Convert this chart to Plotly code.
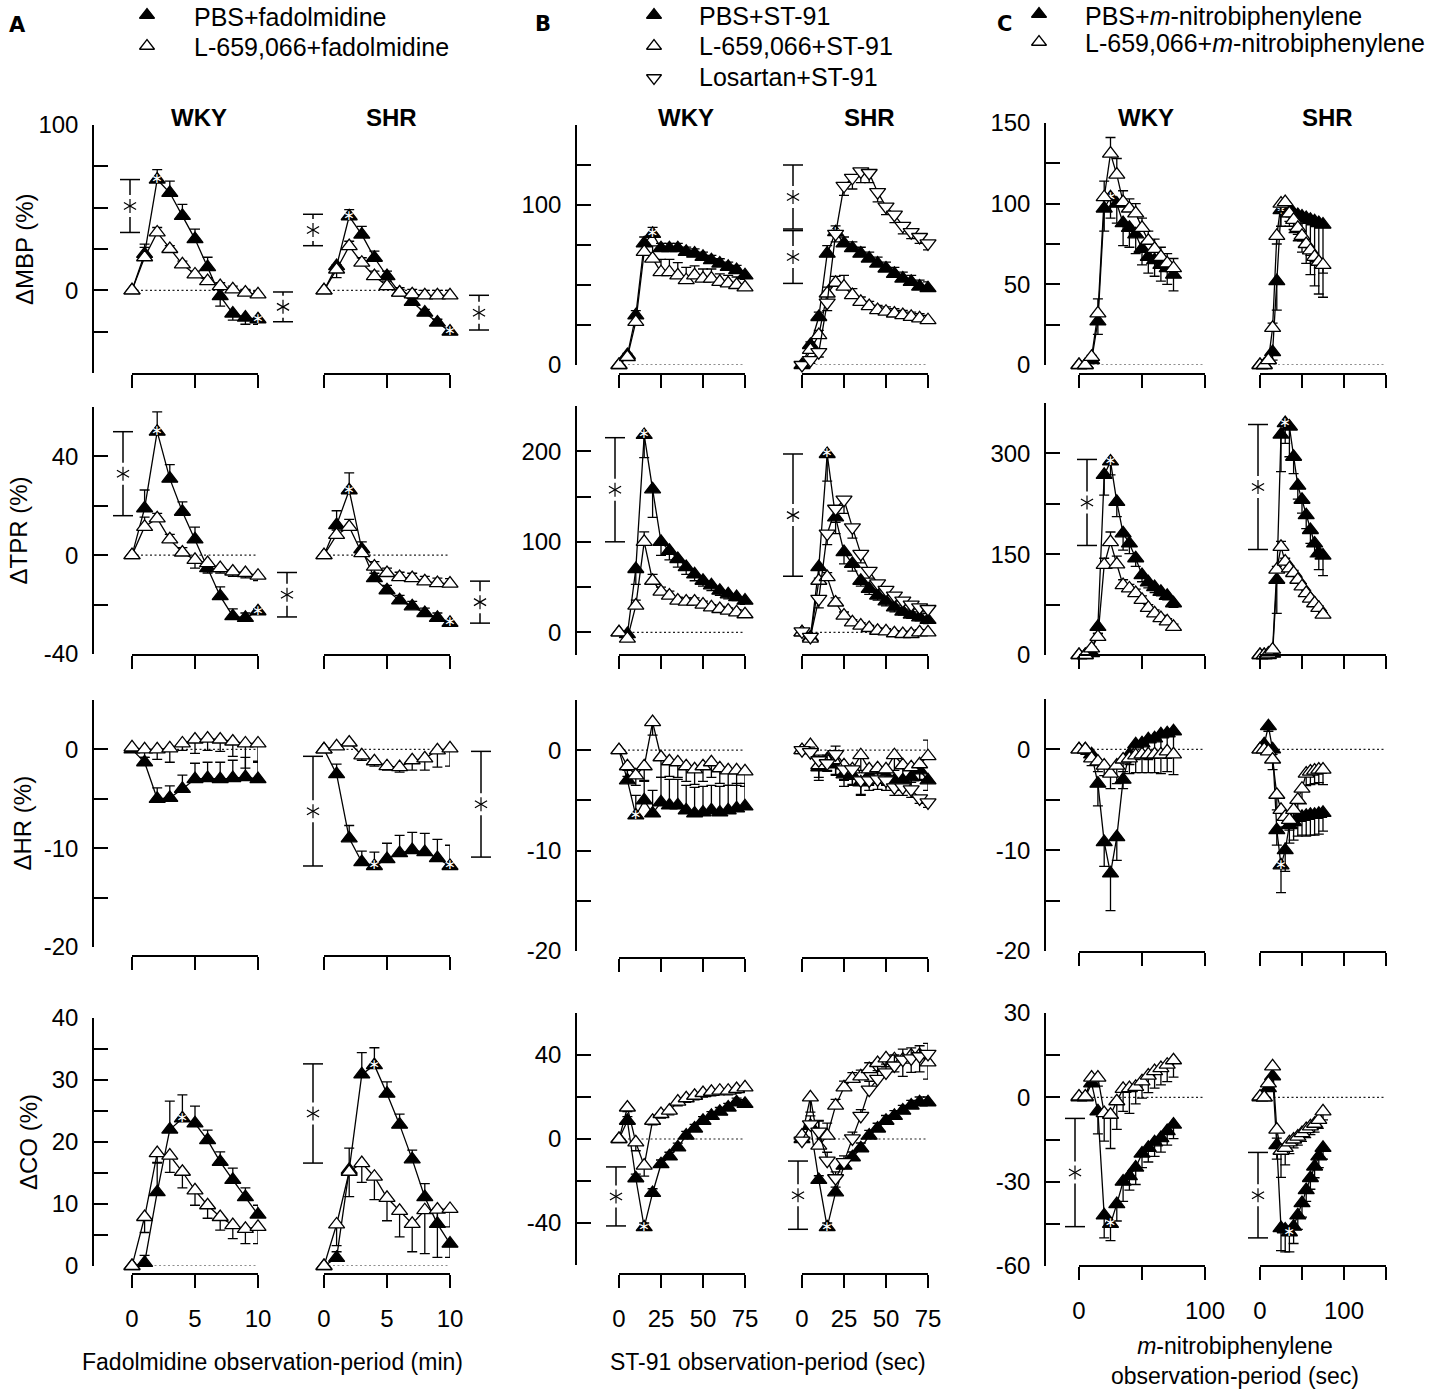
import math
import plotly.graph_objects as go

W, H = 1439, 1396
FONT = "Liberation Sans, Arial, Helvetica, sans-serif"

# observation times
TIME_A = list(range(0, 11))        # min
TIME_B = list(range(0, 80, 5))     # sec
TIME_C = list(range(0, 80, 5))     # sec

# ---- mean % change and SE (SE > 0: bar drawn up, SE < 0: bar drawn down) ----
# A: fadolmidine
A_MBP_WKY_PBS = [0, 22, 67, 59, 45, 31, 14, -3.5, -14, -16.5, -17.5]
A_MBP_WKY_PBS_SE = [0, 4, 6, 7, 7, 6, 6, -6, -4, -4, -3]
A_MBP_WKY_L659 = [0, 20, 35, 25, 15.7, 9.6, 5.6, 2.6, 0.6, -1.4, -2.4]
A_MBP_WKY_L659_SE = [0, 8, 3, 2, 2, 2, 2, 2, 2, 2, 2]
A_MBP_SHR_PBS = [0, 14.7, 44.8, 33.7, 19.7, 8.6, -1.4, -7, -13.5, -19.5, -25]
A_MBP_SHR_PBS_SE = [0, -7, 4, 5, 4, 3, 2, 2, 2, 2, 2]
A_MBP_SHR_L659 = [0, 12.6, 26.7, 16.7, 8.6, 2.6, -1.4, -2.4, -3, -3, -3]
A_MBP_SHR_L659_SE = [0, 3, 3, 3, 3, 3, 3, 3, 3, 3, 3]

A_TPR_WKY_PBS = [0, 19, 50, 31, 17.6, 6.4, -5.2, -16.6, -24.7, -25.4, -22.7]
A_TPR_WKY_PBS_SE = [0, 7.4, 8, 5.7, 4, 5, -2, 3.8, 3, 2, 1]
A_TPR_WKY_L659 = [0, 11.5, 14.9, 6.4, 1.1, -1.9, -3.2, -5.2, -6.6, -7.2, -8.3]
A_TPR_WKY_L659_SE = [0, 3.9, 2, 2, 2, -3.3, -2, -2, -2, -2, -2]
A_TPR_SHR_PBS = [0, 12.2, 26.3, 2.4, -9.3, -14.2, -18.3, -20.7, -23.4, -25.4, -27.4]
A_TPR_SHR_PBS_SE = [0, 5.8, 7, 3, 2, 2, 2, 2, 2, 2, 1]
A_TPR_SHR_L659 = [0, 8.2, 11.5, 0.8, -4.6, -7.2, -8.9, -9.3, -10.6, -11.3, -11.5]
A_TPR_SHR_L659_SE = [0, 2, 3, 2, 2, 2, 2, 2, 2, 2, 2]

A_HR_WKY_PBS = [0, -1.3, -5, -4.9, -4, -3, -2.9, -3, -2.9, -2.8, -3]
A_HR_WKY_PBS_SE = [0, 0.5, 1.1, 1.2, 1.4, 1.6, 1.6, 1.7, 1.8, 2, 1.7]
A_HR_WKY_L659 = [0.2, 0, 0, 0.1, 0.6, 1, 1.1, 1, 0.8, 0.6, 0.6]
A_HR_WKY_L659_SE = [0, -0.8, -1, -1.4, -0.7, -1.4, -1.2, -1.2, -1.5, -2.5, -1.8]
A_HR_SHR_PBS = [0, -2.5, -9, -11.4, -11.8, -11.1, -10.5, -10.2, -10.4, -11, -11.8]
A_HR_SHR_PBS_SE = [0, 1, 1.3, 1.1, 1.4, 1.6, 1.8, 1.8, 1.9, 1.9, 2.1]
A_HR_SHR_L659 = [0, 0.3, 0.7, -0.6, -1.2, -1.7, -1.8, -1.1, -0.9, -0.1, 0.1]
A_HR_SHR_L659_SE = [0, -0.3, -0.3, -0.5, -0.5, -0.4, -0.5, -1.0, -1.2, -1.7, -1.8]

A_CO_WKY_PBS = [0, 0.5, 11.9, 22, 23.8, 23, 20.3, 16.8, 13.9, 11.1, 8.3]
A_CO_WKY_PBS_SE = [0, 1.2, 4.7, 4.6, 3.8, 2.8, 1.6, 1.6, 1.9, 1.5, 1.5]
A_CO_WKY_L659 = [0, 7.9, 18.2, 17.8, 15.2, 12.2, 9.8, 7.9, 6.6, 6, 6.3]
A_CO_WKY_L659_SE = [0, -2.5, -1.5, -2.7, -2.6, -2.4, -2.1, -2.1, -2.2, -2.4, -2.7]
A_CO_SHR_PBS = [0, 1.3, 15.5, 30.9, 32.4, 27.8, 22.8, 17.2, 11.1, 6.8, 3.6]
A_CO_SHR_PBS_SE = [0, 1, 3.5, 3.5, 2.8, 1.9, 1.7, 1.5, 2.2, 2.5, -2.2]
A_CO_SHR_L659 = [0, 6.7, 15.2, 16.6, 14.4, 11, 8.9, 6.8, 9, 9.1, 9.2]
A_CO_SHR_L659_SE = [0, -3.4, -4, -3.1, -3.7, -3.7, -4.2, -4.5, -7, -7.7, -2.9]

# B: ST-91
B_MBP_WKY_PBS = [0, 6.2, 31, 76, 82, 73, 73, 73, 70.7, 69.6, 67.6, 65.5, 63.4, 61.3, 59.3, 56]
B_MBP_WKY_PBS_SE = [0, 1, 3, 4, 4, 3, 3, 3, 3, 3, 3, 3, 3, 3, 3, 3]
B_MBP_WKY_L659 = [0, 5, 27, 70.7, 66.5, 58, 58, 56, 53, 56, 54, 54, 52, 51, 50, 48.5]
B_MBP_WKY_L659_SE = [0, 1, 3, 5, 8, 8, 8, 8, 8, 6, 6, 6, 5, 5, 5, 5]
B_MBP_SHR_PBS = [0, 12.5, 30, 69.6, 83, 76, 73, 69.6, 66.5, 63.4, 60.3, 57, 54, 52, 49, 48]
B_MBP_SHR_PBS_SE = [0, 2, 3, 5, 4, 4, 4, 4, 4, 4, 4, 4, 4, 4, 4, 4]
B_MBP_SHR_L659 = [-1, 9.4, 18.7, 44.7, 51.4, 49, 43.7, 39.5, 36.8, 34.3, 33.3, 32.2, 31.2, 30.1, 29.1, 28]
B_MBP_SHR_L659_SE = [0, 2, 3, 4, 4, 7, 4, 3, 3, 3, 3, 3, 3, 3, 3, 3]
B_MBP_SHR_LOS = [0, 3, 8, 39, 82, 112, 117, 121, 120, 108, 99, 94, 87, 83, 80, 76]
B_MBP_SHR_LOS_SE = [0, -2, -3, -5, -5, -6, -7, -7, -6, -6, -5, -5, -5, -4, -4, -4]

B_TPR_WKY_PBS = [0, -2, 70, 218, 158, 100, 90, 81, 72, 64, 57, 52, 46, 42, 39, 35]
B_TPR_WKY_PBS_SE = [0, -2, -17, -25, -31, -15, -10, -9, -8, -7, -6, -6, -5, -5, -4, -4]
B_TPR_WKY_L659 = [0, -7, 29.5, 100, 57, 45, 40.6, 35, 34, 34, 30.6, 27.7, 25.8, 24, 22, 20]
B_TPR_WKY_L659_SE = [0, 2, 6, 11, 7, 5, 5, 4, 4, 4, 4, 3, 3, 3, 3, 3]
B_TPR_SHR_PBS = [0, -5.5, 72, 197, 127, 88.6, 75.6, 57, 48, 40.6, 34.3, 27.7, 23, 19.6, 16.6, 13.7]
B_TPR_SHR_PBS_SE = [0, -3, -12, -30, -18, -13, -8, -6, -6, -5, -5, -5, -4, -4, -4, -4]
B_TPR_SHR_L659 = [0, -7, 57, 61, 33, 18.5, 11, 7.4, 4.8, 1.8, 1.1, -1, -1.8, -1.8, 0, 0]
B_TPR_SHR_L659_SE = [0, 2, 13, 5, 5, 4, 3, 3, 3, 3, 3, 3, 3, 3, 3, 3]
B_TPR_SHR_LOS = [1, -5, 37, 109, 136.5, 146.5, 116, 86.7, 68, 54, 47, 40.6, 35, 30.6, 27.7, 25.8]
B_TPR_SHR_LOS_SE = [0, -2, -10, -12, -15, -15, -12, -10, -8, -7, -6, -6, -5, -5, -5, -5]

B_HR_WKY_PBS = [0, -3, -6.5, -5, -6.3, -5.2, -5.5, -5.5, -6, -6.3, -6.2, -6, -6.2, -6, -5.8, -5.6]
B_HR_WKY_PBS_SE = [0, 1, 2, 2, 2.3, 2.5, 2.6, 2.6, 2.5, 2.6, 2.6, 2.5, 2.6, 2.5, 2.5, 2.3]
B_HR_WKY_L659 = [0, -1.6, -2.5, -1.6, 2.8, -0.7, -1.1, -1.2, -1.6, -1.9, -1.6, -1.2, -1.8, -2, -2, -2.1]
B_HR_WKY_L659_SE = [0, -1, -1, -1.5, -1.3, -2, -1.5, -1.5, -1.5, -1.5, -1.5, -1.5, -1.5, -1.5, -1.5, -1.5]
B_HR_SHR_PBS = [0, 0.3, -1.7, -0.9, -1.4, -2.4, -2.5, -3.2, -2.5, -2, -2.5, -3, -3, -2.7, -2, -3]
B_HR_SHR_PBS_SE = [0, -0.5, -1, -1.2, -1, -1.2, -1, -1.2, -1, -1, -1, -1, -1, -1, -1, -1]
B_HR_SHR_L659 = [0, 0.5, -1.5, -1, -1, -1.5, -1.9, -0.5, -1.9, -1.8, -1.9, -0.5, -1.5, -1.7, -1.4, -0.6]
B_HR_SHR_L659_SE = [0, -0.5, -1.5, -1, -1.5, -1.5, -1.5, -1.5, -1.5, -1.5, -1.5, -1.5, -1.5, -1.5, -1.5, 1.6]
B_HR_SHR_LOS = [0, -0.2, -1, -1.3, -0.4, -1.9, -1.9, -3, -3, -2.9, -3, -3.7, -3.7, -3.9, -4.8, -5.2]
B_HR_SHR_LOS_SE = [0, 0.5, 0.5, 0.8, 0.8, -1, -1, -1.5, -1, -1, -1, -0.8, -0.8, -0.8, -0.5, -0.5]

B_CO_WKY_PBS = [0, 8.7, -18.7, -42, -25.7, -12, -8.3, -4, 1.6, 5, 8.7, 11, 13, 15, 17.5, 16.7]
B_CO_WKY_PBS_SE = [0, 2, 2, 2, 2, 2, 2, 2, 2, 2, 2, 2, 2, 2, 2, 2]
B_CO_WKY_L659 = [0, 15, -1.6, -12.7, 8.7, 11.9, 13.5, 17.8, 19.4, 20.6, 21.9, 22.5, 23, 23, 23.8, 24.6]
B_CO_WKY_L659_SE = [0, -2, -4, -5, -2, -2, -2, -2, -2, -2, -2, -2, -2, -2, -2, -2]
B_CO_SHR_PBS = [0, 6.3, -19.5, -42, -25.4, -12.7, -8.7, -4.4, 1.6, 5, 8.7, 11, 13.5, 15.9, 17.5, 17.5]
B_CO_SHR_PBS_SE = [0, 2, 2, 2, 2.5, 2.5, 2.5, 2.5, 2.5, 2.5, 2.5, 2.5, 2.5, 2.5, 2.5, 2.5]
B_CO_SHR_L659 = [1.6, 19.8, -3.2, 1.6, 15.9, 24.6, 28.6, 29.8, 33.3, 36.2, 38.4, 38, 37.8, 39.7, 40, 36.5]
B_CO_SHR_L659_SE = [0, -7, 12, 6, 3, 3, 3, 3, 3, -4, -4, -6, -8, -8, -8, -8]
B_CO_SHR_LOS = [-0.8, 7, 3.5, -10.3, -18.7, -11, 0.3, 11, 23.5, 28.6, 31.7, 35, 37.8, 38.4, 39.4, 40.5]
B_CO_SHR_LOS_SE = [0, 4, 5, 4, 3, 3, 3, 3, 4, 4, 4, 5, 5, 5, 5, 5]

# C: m-nitrobiphenylene
C_MBP_WKY_PBS = [0, 0, 3, 27, 97, 104, 100, 88, 85, 81, 72, 67, 65, 62, 60, 56]
C_MBP_WKY_PBS_SE = [0, 0, -1, -8, -14, -13, -12, -14, -12, -12, -10, -10, -10, -10, -10, -10]
C_MBP_WKY_L659 = [0, 0, 5, 32, 104, 131, 118, 101, 97, 94, 85, 77, 72, 67, 63, 60]
C_MBP_WKY_L659_SE = [0, 0, 1, 9, 10, 10, 10, 7, 6, 6, 6, 6, 6, 6, 6, 6]
C_MBP_SHR_PBS = [0, 0, 3, 8, 52, 96, 100, 97, 94, 93, 92, 91, 90, 89, 88, 87]
C_MBP_SHR_PBS_SE = [0, 0, -2, -5, -18, -10, -8, -8, -10, -12, -15, -18, -22, -25, -28, -30]
C_MBP_SHR_L659 = [0, 0, 3, 23, 80, 100, 101, 94, 90, 85, 80, 75, 71, 67, 64, 62]
C_MBP_SHR_L659_SE = [0, 0, 1, 3, -5, -5, -8, -8, -8, -8, -10, -12, -15, -18, -20, -20]

C_TPR_WKY_PBS = [0, 0, 3, 42, 268, 288, 228, 181, 166, 144, 119, 108, 101, 94, 88, 77]
C_TPR_WKY_PBS_SE = [0, 0, -3, -10, -30, -20, -22, -25, -15, -12, -10, -8, -8, -6, -6, -6]
C_TPR_WKY_L659 = [0, 0, 10, 27, 134, 168, 135, 104, 99, 92, 82, 70, 62, 55, 50, 42]
C_TPR_WKY_L659_SE = [0, 0, 2, 5, 10, 15, 12, 8, 6, 6, 6, 5, 5, 4, 4, 4]
C_TPR_SHR_PBS = [0, 0, 0, 2, 112, 328, 345, 340, 295, 252, 231, 208, 186, 166, 152, 148]
C_TPR_SHR_PBS_SE = [0, 0, 0, -2, -50, -55, -30, -45, -25, -20, -20, -20, -20, -20, -25, -30]
C_TPR_SHR_L659 = [0, 0, 2, 8, 127, 161, 139, 129, 122, 112, 102, 92, 84, 77, 70, 60]
C_TPR_SHR_L659_SE = [0, 0, 1, 2, 5, 8, 5, 4, 4, 4, 4, 4, 3, 3, 3, 3]

C_HR_WKY_PBS = [0, 0, -0.5, -3.4, -9.2, -12.3, -8.7, -3, -0.5, 0.5, 0.6, 1, 1.1, 1.5, 1.6, 1.8]
C_HR_WKY_PBS_SE = [0, 0, -0.5, -2.2, -2.4, -3.7, -2.3, -0.9, -1, -1.5, -1.5, -2, -2, -2, -2.5, -2.5]
C_HR_WKY_L659 = [0, 0, -0.9, -1.2, -1.6, -2.4, -1.6, -1, -0.9, -0.6, -0.5, -0.5, -0.5, -0.5, -0.2, -0.5]
C_HR_WKY_L659_SE = [0, -0.5, -0.7, -1, -1, -1.5, -1.8, -1.2, -1.5, -1.7, -1.8, -1.8, -1.8, -1.9, -2, -2]
C_HR_SHR_PBS = [0, 0.5, 2.3, 0, -8, -11.5, -10, -7.5, -7.2, -6.8, -6.7, -6.6, -6.5, -6.5, -6.4, -6.3]
C_HR_SHR_PBS_SE = [0, 0, -0.5, -0.5, -1.5, -2.7, -2.1, -1.8, -1.8, -1.8, -1.8, -2, -2, -2, -2, -1.8]
C_HR_SHR_L659 = [0, 0, -0.2, -1, -4.5, -6, -6.7, -7, -6, -5, -3.9, -2.4, -2.2, -2.1, -2, -2]
C_HR_SHR_L659_SE = [0, 0, 0, -1, -1.5, -1, -1, -1, -1.5, -1.8, -1.5, -1.2, -1.3, -1.3, -1.3, -1.5]

C_CO_WKY_PBS = [0, 0, 5, -5, -42, -45, -38, -30, -28, -25, -20, -18, -16, -14.5, -12, -9.7]
C_CO_WKY_PBS_SE = [0, 0, -1, -8, -8, -6, -6, -7, -5, -6, -5, -5, -5, -5, -5, -5]
C_CO_WKY_L659 = [0.3, 0.3, 7, 7, -5.6, -6.2, -1.4, 3, 3.3, 3.7, 5.7, 7.7, 9.3, 10.4, 11.6, 13.2]
C_CO_WKY_L659_SE = [0, 0, -1, -3, -10, -12, -10, -8, -9, -6, -6, -6, -6, -6, -6, -6]
C_CO_SHR_PBS = [0, 0, 3.3, 7.5, -17, -46.5, -47, -48, -46, -42, -37.6, -33, -28.7, -24.6, -21, -18]
C_CO_SHR_PBS_SE = [0, 0, -1, -1, -5, -8, -8, -7, -6, -5, -5, -4, -4, -4, -4, -4]
C_CO_SHR_L659 = [0.3, 0, 5, 11, -11.5, -19, -18, -16, -15, -14, -12.7, -11.3, -10.3, -9.4, -8, -5]
C_CO_SHR_L659_SE = [0, 0, -1, -1, -3, -9.5, -6, -4, -3, -3, -3, -3, -3, -3, -3, -3]

# points flagged with a white asterisk (index into the series)
STARS = {
    ("A", "MBP", "WKY", "PBS"): [2, 10], ("A", "MBP", "SHR", "PBS"): [2, 10],
    ("A", "TPR", "WKY", "PBS"): [2, 10], ("A", "TPR", "SHR", "PBS"): [2, 10],
    ("A", "HR", "SHR", "PBS"): [4, 10],
    ("A", "CO", "WKY", "PBS"): [4], ("A", "CO", "SHR", "PBS"): [4],
    ("B", "MBP", "WKY", "PBS"): [4], ("B", "MBP", "SHR", "PBS"): [4],
    ("B", "TPR", "WKY", "PBS"): [3], ("B", "TPR", "SHR", "PBS"): [3],
    ("B", "HR", "WKY", "PBS"): [2],
    ("B", "CO", "WKY", "PBS"): [3], ("B", "CO", "SHR", "PBS"): [3],
    ("C", "MBP", "WKY", "PBS"): [5], ("C", "MBP", "SHR", "PBS"): [5],
    ("C", "TPR", "WKY", "PBS"): [5], ("C", "TPR", "SHR", "PBS"): [6],
    ("C", "HR", "SHR", "PBS"): [5],
    ("C", "CO", "WKY", "PBS"): [5], ("C", "CO", "SHR", "PBS"): [7],
}

# significance brackets: panel, row, x position (px), low, high
BRACKETS = [
    ("A", "MBP", 130, 35, 67), ("A", "MBP", 283, -19, -1),
    ("A", "MBP", 313, 27, 46), ("A", "MBP", 479, -24, -3),
    ("A", "TPR", 123, 16, 50), ("A", "TPR", 287, -25, -7),
    ("A", "TPR", 480, -27.5, -10.5),
    ("A", "HR", 313, -11.8, -0.7), ("A", "HR", 481, -10.9, -0.2),
    ("A", "CO", 313, 16.6, 32.6),
    ("B", "MBP", 793, 85, 125), ("B", "MBP", 793, 51, 84),
    ("B", "TPR", 615, 100, 215), ("B", "TPR", 793, 62, 197),
    ("B", "CO", 616, -41.4, -13.3), ("B", "CO", 798, -43, -10.5),
    ("C", "TPR", 1087, 163, 291), ("C", "TPR", 1258, 157, 343),
    ("C", "CO", 1075, -46, -7.5), ("C", "CO", 1258, -50, -19.6),
]

ROWS = ["MBP", "TPR", "HR", "CO"]
ROW_TITLES = {"MBP": ("ΔMBP (%)", 24), "TPR": ("ΔTPR (%)", 18),
              "HR": ("ΔHR (%)", 22), "CO": ("ΔCO (%)", 28)}

STYLE = {
    "PBS": dict(symbol="triangle-up", fill="black"),
    "L659": dict(symbol="triangle-up", fill="white"),
    "LOS": dict(symbol="triangle-down", fill="white"),
}

PANELS = {
    "A": dict(t=TIME_A, yline=93, xline=[374, 655, 956, 1274],
              strains={"WKY": dict(px=(132, 258), rng=[0, 10], ticks=[0, 5, 10], lab=["0", "5", "10"]),
                       "SHR": dict(px=(324, 450), rng=[0, 10], ticks=[0, 5, 10], lab=["0", "5", "10"])}),
    "B": dict(t=TIME_B, yline=576, xline=[374, 655, 958, 1274],
              strains={"WKY": dict(px=(619, 745), rng=[0, 75], ticks=[0, 25, 50, 75], lab=["0", "25", "50", "75"]),
                       "SHR": dict(px=(802, 928), rng=[0, 75], ticks=[0, 25, 50, 75], lab=["0", "25", "50", "75"])}),
    "C": dict(t=TIME_C, yline=1045, xline=[374, 655, 952, 1266],
              strains={"WKY": dict(px=(1079, 1205), rng=[0, 100], ticks=[0, 50, 100], lab=["0", "", "100"]),
                       "SHR": dict(px=(1260, 1386), rng=[0, 150], ticks=[0, 50, 100, 150], lab=["0", "", "100", ""])}),
}

YAXES = {
    ("A", "MBP"): dict(px=(125, 373), rng=[-50, 100], t0=-50, step=25, lab=[0, 100]),
    ("A", "TPR"): dict(px=(407, 654), rng=[-40, 60], t0=-40, step=20, lab=[-40, 0, 40]),
    ("A", "HR"): dict(px=(700, 947), rng=[-20, 5], t0=-20, step=5, lab=[-20, -10, 0]),
    ("A", "CO"): dict(px=(1018, 1266), rng=[0, 40], t0=0, step=5, lab=[0, 10, 20, 30, 40]),
    ("B", "MBP"): dict(px=(125, 365), rng=[0, 150], t0=0, step=25, lab=[0, 100]),
    ("B", "TPR"): dict(px=(406, 655), rng=[-25, 250], t0=0, step=50, lab=[0, 100, 200]),
    ("B", "HR"): dict(px=(700, 951), rng=[-20, 5], t0=-20, step=5, lab=[-20, -10, 0]),
    ("B", "CO"): dict(px=(1013, 1265), rng=[-60, 60], t0=-60, step=20, lab=[-40, 0, 40]),
    ("C", "MBP"): dict(px=(123, 365), rng=[0, 150], t0=0, step=25, lab=[0, 50, 100, 150]),
    ("C", "TPR"): dict(px=(403, 655), rng=[0, 375], t0=0, step=75, lab=[0, 150, 300]),
    ("C", "HR"): dict(px=(699, 951), rng=[-20, 5], t0=-20, step=5, lab=[-20, -10, 0]),
    ("C", "CO"): dict(px=(1013, 1266), rng=[-60, 30], t0=-60, step=15, lab=[-60, -30, 0, 30]),
}


def frange(a, b, s):
    out, v = [], a
    while v <= b + 1e-9:
        out.append(v)
        v += s
    return out


def ypix(col, row, v):
    ya = YAXES[(col, row)]
    top, bot = ya["px"]
    r0, r1 = ya["rng"]
    return bot - (v - r0) / (r1 - r0) * (bot - top)


def ax_key(kind, i):
    return (kind + "axis") if i == 1 else f"{kind}axis{i}"


def ax_ref(kind, i):
    return kind if i == 1 else f"{kind}{i}"


def pline(x0, y0, x1, y1, w=1.5):
    return dict(type="line", xref="paper", yref="paper",
                x0=x0 / W, x1=x1 / W, y0=1 - y0 / H, y1=1 - y1 / H,
                line=dict(color="black", width=w))


def asterisk(cx, cy, r=7):
    # six-armed thin asterisk built from three strokes
    out = []
    for ang in (90, 30, -30):
        dx = r * math.cos(math.radians(ang))
        dy = r * math.sin(math.radians(ang))
        out.append(pline(cx - dx, cy - dy, cx + dx, cy + dy, 1.2))
    return out


fig = go.Figure()
lay = {}
tickfont = dict(family=FONT, size=24, color="black")
nx = ny = 0

for col, p in PANELS.items():
    for ri, row in enumerate(ROWS):
        ya = YAXES[(col, row)]
        ny += 1
        yref = ax_ref("y", ny)
        top, bot = ya["px"]
        tv = frange(ya["t0"], ya["rng"][1], ya["step"])
        lay[ax_key("y", ny)] = dict(
            domain=[1 - bot / H, 1 - top / H], range=ya["rng"], anchor="free",
            position=p["yline"] / W, showgrid=False, zeroline=False, automargin=False,
            showline=True, linecolor="black", linewidth=1.5,
            ticks="inside", ticklen=14, tickwidth=1.5, tickcolor="black",
            tickvals=tv, ticktext=[(f"{v:g}" if v in ya["lab"] else "") for v in tv],
            tickfont=tickfont, ticklabelstandoff=9, fixedrange=True)

        for strain, s in p["strains"].items():
            nx += 1
            xref = ax_ref("x", nx)
            bottom_row = row == "CO"
            lay[ax_key("x", nx)] = dict(
                domain=[s["px"][0] / W, s["px"][1] / W], range=s["rng"], anchor="free",
                position=1 - p["xline"][ri] / H, showgrid=False, zeroline=False, automargin=False,
                showline=True, linecolor="black", linewidth=1.5,
                ticks="outside", ticklen=13, tickwidth=1.5, tickcolor="black",
                tickvals=s["ticks"], ticktext=s["lab"], showticklabels=bottom_row,
                tickfont=tickfont, ticklabelstandoff=10, fixedrange=True)

            # dotted zero reference
            fig.add_trace(go.Scatter(
                x=s["rng"], y=[0, 0], mode="lines", xaxis=xref, yaxis=yref,
                line=dict(color="#222222", width=1.2, dash="2px,2.5px"),
                hoverinfo="skip", showlegend=False))

            for ser in ["PBS", "L659", "LOS"]:
                vals = globals().get(f"{col}_{row}_{strain}_{ser}")
                if vals is None:
                    continue
                se = globals()[f"{col}_{row}_{strain}_{ser}_SE"]
                st = STYLE[ser]
                fig.add_trace(go.Scatter(
                    x=p["t"], y=vals, mode="lines+markers", xaxis=xref, yaxis=yref,
                    line=dict(color="black", width=1.3),
                    marker=dict(symbol=st["symbol"], size=14, color=st["fill"],
                                line=dict(color="black", width=1.3)),
                    error_y=dict(type="data", symmetric=False,
                                 array=[max(e, 0) for e in se],
                                 arrayminus=[max(-e, 0) for e in se],
                                 color="black", thickness=1.3, width=5),
                    cliponaxis=False, hoverinfo="skip", showlegend=False))
                idx = STARS.get((col, row, strain, ser), [])
                if idx:
                    fig.add_trace(go.Scatter(
                        x=[p["t"][i] for i in idx], y=[vals[i] for i in idx],
                        mode="text", text=["∗"] * len(idx), xaxis=xref, yaxis=yref,
                        textfont=dict(family="DejaVu Sans", size=14, color="white"),
                        cliponaxis=False, hoverinfo="skip", showlegend=False))

# full-page pixel overlay for the legend symbols
nx += 1
ny += 1
lay[ax_key("x", nx)] = dict(domain=[0, 1], range=[0, W], visible=False, automargin=False,
                            anchor=ax_ref("y", ny), fixedrange=True)
lay[ax_key("y", ny)] = dict(domain=[0, 1], range=[H, 0], visible=False, automargin=False,
                            anchor=ax_ref("x", nx), fixedrange=True)
LEG = [
    (147, 15, "PBS", "PBS+fadolmidine", 192, 17),
    (147, 46, "L659", "L-659,066+fadolmidine", 192, 47),
    (654, 15, "PBS", "PBS+ST-91", 697, 16),
    (654, 46, "L659", "L-659,066+ST-91", 697, 46),
    (654, 78, "LOS", "Losartan+ST-91", 697, 77),
    (1039, 14, "PBS", "PBS+<i>m</i>-nitrobiphenylene", 1083, 16),
    (1039, 42, "L659", "L-659,066+<i>m</i>-nitrobiphenylene", 1083, 43),
]
ann = []
for mx, my, ser, label, tx, ty in LEG:
    st = STYLE[ser]
    fig.add_trace(go.Scatter(
        x=[mx], y=[my], mode="markers", xaxis=ax_ref("x", nx), yaxis=ax_ref("y", ny),
        marker=dict(symbol=st["symbol"], size=13, color=st["fill"], line=dict(color="black", width=1.3)),
        cliponaxis=False, hoverinfo="skip", showlegend=False))
    ann.append(dict(x=tx / W, y=1 - ty / H, xref="paper", yref="paper", text=label,
                    xanchor="left", yanchor="middle", showarrow=False,
                    font=dict(family=FONT, size=25, color="black")))

# panel letters
for letter, lx, ly in [("A", 17, 25), ("B", 543, 24), ("C", 1004, 24)]:
    ann.append(dict(x=lx / W, y=1 - ly / H, xref="paper", yref="paper", text=f"<b>{letter}</b>",
                    showarrow=False, xanchor="center", yanchor="middle",
                    font=dict(family="DejaVu Sans, " + FONT, size=21, color="black")))

# strain titles
for col, p in PANELS.items():
    for strain, s in p["strains"].items():
        cx = (s["px"][0] + s["px"][1]) / 2 + 4
        ann.append(dict(x=cx / W, y=1 - 118 / H, xref="paper", yref="paper", text=f"<b>{strain}</b>",
                        showarrow=False, xanchor="center", yanchor="middle",
                        font=dict(family=FONT, size=24, color="black")))

# row titles
for row in ROWS:
    top, bot = YAXES[("A", row)]["px"]
    txt, xx = ROW_TITLES[row]
    ann.append(dict(x=xx / W, y=1 - (top + bot) / 2 / H, xref="paper", yref="paper", text=txt,
                    textangle=-90, showarrow=False, xanchor="center", yanchor="middle",
                    font=dict(family=FONT, size=24, color="black")))

# x titles
for txt, xx, yy in [("Fadolmidine observation-period (min)", 272, 1362),
                     ("ST-91 observation-period (sec)", 768, 1362),
                     ("<i>m</i>-nitrobiphenylene<br>observation-period (sec)", 1235, 1361)]:
    ann.append(dict(x=xx / W, y=1 - yy / H, xref="paper", yref="paper", text=txt,
                    showarrow=False, xanchor="center", yanchor="middle", align="center",
                    font=dict(family=FONT, size=23, color="black")))

# significance brackets
shapes = []
for col, row, xp, lo, hi in BRACKETS:
    yt, yb = ypix(col, row, hi), ypix(col, row, lo)
    mid = (yt + yb) / 2
    gap = min(11, (yb - yt) / 2 - 3)
    shapes += [pline(xp - 10, yt, xp + 10, yt), pline(xp - 10, yb, xp + 10, yb),
               pline(xp, yt, xp, mid - gap), pline(xp, mid + gap, xp, yb)]
    shapes += asterisk(xp, mid)

fig.update_layout(
    width=W, height=H, margin=dict(l=0, r=0, t=0, b=0, pad=0, autoexpand=False),
    paper_bgcolor="white", plot_bgcolor="rgba(0,0,0,0)",
    font=dict(family=FONT, color="black"),
    showlegend=False, annotations=ann, shapes=shapes, **lay)

fig.write_html("out.html", config=dict(displayModeBar=False),
               post_script="document.body.style.margin='0px';document.body.style.overflow='hidden';")
